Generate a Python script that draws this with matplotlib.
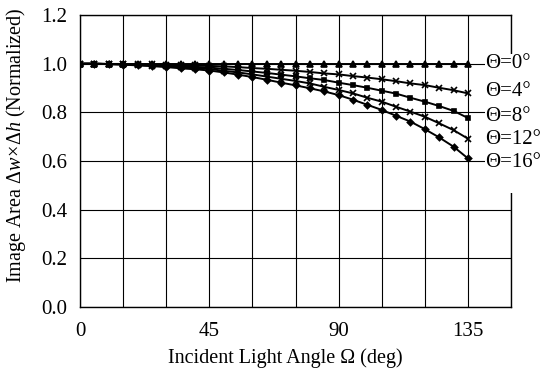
import matplotlib
matplotlib.use("Agg")
import matplotlib.pyplot as plt
from matplotlib.patches import Rectangle
import numpy as np

plt.rcParams['font.family'] = ['Liberation Serif', 'DejaVu Serif']
plt.rcParams['mathtext.fontset'] = 'custom'
plt.rcParams['mathtext.rm'] = 'Liberation Serif'
plt.rcParams['mathtext.it'] = 'Liberation Serif:italic'

# incident light angle (deg), every 5 deg
omega = np.arange(0, 136, 5)

# normalized image area for each tilt angle theta
area_t0 = [1.000] * 28
area_t4 = [1.000, 1.000, 0.999, 0.999, 0.998, 0.997, 0.996, 0.994, 0.993, 0.991,
           0.989, 0.986, 0.982, 0.979, 0.975, 0.971, 0.966, 0.960, 0.956, 0.949,
           0.943, 0.936, 0.928, 0.919, 0.912, 0.901, 0.891, 0.878]
area_t8 = [1.000, 1.000, 0.999, 0.998, 0.996, 0.994, 0.992, 0.989, 0.987, 0.984,
           0.979, 0.974, 0.968, 0.962, 0.955, 0.948, 0.940, 0.933, 0.922, 0.912,
           0.901, 0.889, 0.877, 0.860, 0.844, 0.826, 0.806, 0.777]
area_t12 = [1.000, 1.000, 0.998, 0.997, 0.994, 0.992, 0.989, 0.985, 0.982, 0.978,
            0.971, 0.964, 0.956, 0.947, 0.938, 0.929, 0.919, 0.905, 0.892, 0.878,
            0.860, 0.844, 0.823, 0.803, 0.782, 0.755, 0.727, 0.692]
area_t16 = [1.000, 1.000, 0.998, 0.996, 0.993, 0.990, 0.986, 0.981, 0.977, 0.972,
            0.964, 0.955, 0.945, 0.934, 0.922, 0.911, 0.899, 0.886, 0.871, 0.852,
            0.831, 0.810, 0.786, 0.762, 0.731, 0.697, 0.659, 0.611]

labels = ['Θ=0°', 'Θ=4°', 'Θ=8°', 'Θ=12°', 'Θ=16°']
series = [area_t0, area_t4, area_t8, area_t12, area_t16]
markers = ['^', 'x', 's', 'x', 'D']
msizes = [4.0, 4.5, 3.5, 4.5, 3.2]
# vertical placement of the curve labels (data units)
label_y = [1.0, 0.885, 0.785, 0.69, 0.592]

fig = plt.figure(figsize=(5.41, 3.71), dpi=100)
ax = fig.add_axes([0.148, 0.1725, 0.7965, 0.787])

for vals, m, ms in zip(series, markers, msizes):
    ax.plot(omega, vals, color='black', lw=1.4, marker=m, markersize=ms,
            markeredgewidth=1.2, zorder=3)

ax.set_xlim(0, 150)
ax.set_ylim(0, 1.2)
ax.set_xticks([0, 45, 90, 135])
ax.set_xticks(np.arange(0, 151, 15), minor=True)
ax.set_yticks(np.arange(0, 1.21, 0.2))
ax.set_yticklabels([f'{v:.1f}' for v in np.arange(0, 1.21, 0.2)])
ax.grid(True, which='both', color='black', lw=0.8)
ax.tick_params(which='both', length=0, labelsize=15)
ax.tick_params(axis='y', pad=9)
ax.tick_params(axis='x', pad=11)
for s in ax.spines.values():
    s.set_linewidth(1.0)

# white box behind the curve labels (breaks the right frame)
ax.add_patch(Rectangle((141, 0.47), 30, 0.57, facecolor='white', edgecolor='none',
                       clip_on=False, zorder=4))
for lab, yy in zip(labels, label_y):
    ax.text(141.0, yy, lab, fontsize=15, ha='left', va='center', zorder=5,
            clip_on=False)

ax.set_xlabel('Incident Light Angle Ω (deg)', fontsize=14.5)
ax.set_ylabel(r'Image Area $\Delta w\!\times\!\Delta h$ (Normalized)', fontsize=14.5)
ax.xaxis.set_label_coords(0.476, -0.14)
ax.yaxis.set_label_coords(-0.12, 0.555)

fig.savefig('out.png', dpi=100)
